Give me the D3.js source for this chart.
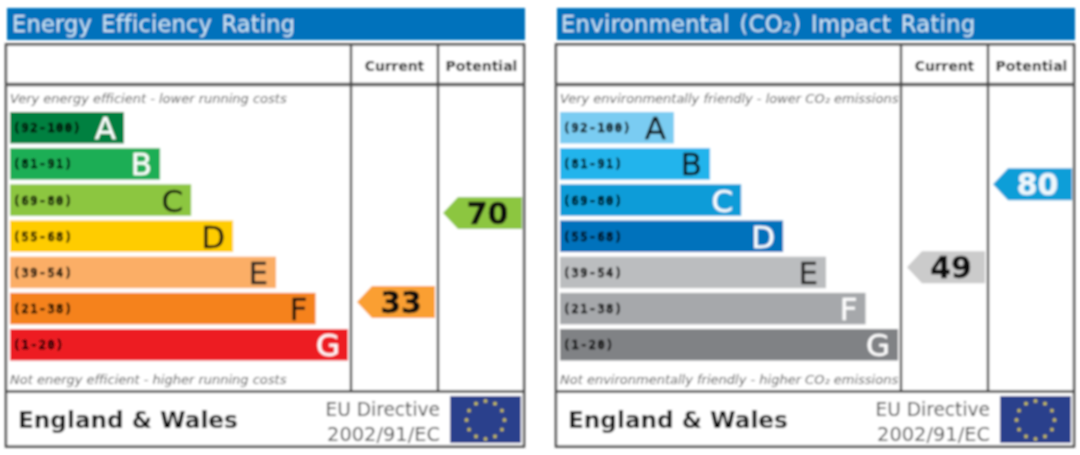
<!DOCTYPE html>
<html><head><meta charset="utf-8">
<script src="https://cdn.jsdelivr.net/npm/d3@7"></script>
<style>html,body{margin:0;padding:0;background:#fff;overflow:hidden}svg{display:block}text{font-family:"DejaVu Sans",sans-serif}</style>
</head><body><svg id="c" width="1080" height="455"></svg>
<script>
const bands = ["A","B","C","D","E","F","G"];
const ranges = ["(92-100)","(81-91)","(69-80)","(55-68)","(39-54)","(21-38)","(1-20)"];
const bandHigh = [100,91,80,68,54,38,20];
const bandLow = [92,81,69,55,39,21,1];
const barLengths = [33.7,44.4,53.6,66,78.7,90.4,100];

const energyColors = ["#00803f","#1fae55","#8cc63f","#ffcc00","#fbae66","#f5821f","#ed1c24"];
const energyLetters = ["#fff","#fff","#111","#111","#222","#111","#fff"];
const energyTop = "Very energy efficient - lower running costs";
const energyBottom = "Not energy efficient - higher running costs";
const energyCurrent = 33, energyPotential = 70;

const envColors = ["#7accf2","#22b4ec","#0b9cd8","#0072bc","#bbbdbf","#a6a8ab","#808285"];
const envLetters = ["#111","#111","#fff","#fff","#222","#fff","#fff"];
const envTop = "Very environmentally friendly - lower CO\u2082 emissions";
const envBottom = "Not environmentally friendly - higher CO\u2082 emissions";
const envCurrent = 49, envPotential = 80;

const columns = ["Current","Potential"];
const region = "England & Wales";
const directive = ["EU Directive","2002/91/EC"];

const svg = d3.select("#c");
svg.append("defs").append("filter").attr("id","soft").attr("x","-2%").attr("y","-2%").attr("width","104%").attr("height","104%")
  .append("feGaussianBlur").attr("stdDeviation",0.85);

const root = svg.append("g").attr("filter","url(#soft)");

function panel(x0, o){
  const g = root.append("g").attr("transform",`translate(${x0},0)`);
  const x = d3.scaleLinear().domain([0,100]).range([10,348]);
  const y = d3.scaleBand().domain(bands).range([112,360.5]).paddingInner(0.13).paddingOuter(0);
  // value → vertical centre of the arrow, positioned within its rating band
  const valueY = v => {
    const i = bandLow.findIndex(l => v >= l);
    const s = d3.scaleLinear().domain([bandHigh[i],bandLow[i]]).range([y(bands[i]),y(bands[i])+y.bandwidth()]);
    return s(v);
  };

  g.append("rect").attr("x",7).attr("y",8).attr("width",518).attr("height",32).attr("fill","#0072bc");
  const t = g.append("text").attr("x",o.titleX).attr("y",32).attr("fill","#cfe6f5")
    .attr("font-size",22.5).attr("letter-spacing",o.titleSpacing).attr("word-spacing",2);
  o.title(t);

  const line = "#444";
  g.append("rect").attr("x",6).attr("y",44.5).attr("width",518).attr("height",402).attr("fill","#fff").attr("stroke",line).attr("stroke-width",2.4);
  g.append("line").attr("x1",6).attr("x2",524).attr("y1",84.5).attr("y2",84.5).attr("stroke","#5a5a5a").attr("stroke-width",3.4);
  g.append("line").attr("x1",6).attr("x2",524).attr("y1",391.5).attr("y2",391.5).attr("stroke",line).attr("stroke-width",2.4);
  [351,438].forEach(cx=>g.append("line").attr("x1",cx).attr("x2",cx).attr("y1",44).attr("y2",391).attr("stroke",line).attr("stroke-width",2.4));

  g.selectAll(".hd").data(columns).join("text").attr("class","hd")
    .attr("x",(d,i)=>[394.5,481.5][i]).attr("y",71).attr("text-anchor","middle")
    .attr("font-size",(d,i)=>[13.8,14][i]).attr("font-weight","bold").attr("fill","#111").text(d=>d);

  g.append("text").attr("x",10).attr("y",103).attr("font-size",o.noteSize).attr("font-style","italic").attr("fill","#555").text(o.top);
  g.append("text").attr("x",10).attr("y",384).attr("font-size",o.noteSize).attr("font-style","italic").attr("fill","#555").text(o.bottom);

  g.selectAll(".bar").data(bands).join("rect").attr("class","bar")
    .attr("x",x(0)).attr("y",d=>y(d)).attr("height",y.bandwidth())
    .attr("width",(d,i)=>x(barLengths[i])-x(0)).attr("fill",(d,i)=>o.colors[i]);
  g.selectAll(".rng").data(ranges).join("text").attr("class","rng")
    .attr("x",13).attr("y",(d,i)=>y(bands[i])+y.bandwidth()/2+4.5)
    .style("font-family","DejaVu Sans Mono").attr("letter-spacing",1.4)
    .attr("font-size",12).attr("font-weight","bold").attr("fill","#000")
    .attr("stroke","#000").attr("stroke-width",0.5).text(d=>d);
  g.selectAll(".let").data(bands).join("text").attr("class","let")
    .attr("x",(d,i)=>x(barLengths[i])-8).attr("y",d=>y(d)+y.bandwidth()/2+11.5)
    .attr("text-anchor","end").attr("font-size",31)
    .attr("fill",(d,i)=>o.letters[i]).attr("stroke",(d,i)=>o.letters[i]).attr("stroke-width",0.3).text(d=>d);

  const arrow = d3.line();
  [[o.current,357,435,o.currentColor,o.currentText],[o.potential,443,522,o.potentialColor,o.potentialText]].forEach(([v,l,r,c,tc])=>{
    const cy = valueY(v), h = 16;
    g.append("path").attr("d",arrow([[l,cy],[l+15,cy-h],[r,cy-h],[r,cy+h],[l+15,cy+h]])+"Z").attr("fill",c);
    g.append("text").attr("x",(l+r)/2+5).attr("y",cy+11).attr("text-anchor","middle")
      .attr("font-size",30).attr("font-weight","bold").attr("fill",tc).attr("stroke",tc).attr("stroke-width",0.4).text(v);
  });

  g.append("text").attr("x",18).attr("y",428).attr("font-size",23.2).attr("font-weight","bold").attr("fill","#111").text(region);
  g.selectAll(".dir").data(directive).join("text").attr("class","dir").attr("x",440).attr("y",(d,i)=>416+i*24.5)
    .attr("text-anchor","end").attr("font-size",(d,i)=>[18.6,19.4][i]).attr("fill","#4a4a4a").text(d=>d);
  g.append("rect").attr("x",450).attr("y",396).attr("width",71).attr("height",47).attr("fill","#2b3f8c");
  const star = d3.symbol().type(d3.symbolStar).size(9);
  g.selectAll(".st").data(d3.range(12)).join("path").attr("class","st").attr("d",star)
    .attr("transform",d=>{const a=d/12*2*Math.PI;return `translate(${485.5+19*Math.sin(a)},${420-19*Math.cos(a)})`})
    .attr("fill","#e8d84a");
}

panel(0,{titleX:12,titleSpacing:0.2,title:t=>t.text("Energy Efficiency Rating"),colors:energyColors,letters:energyLetters,top:energyTop,bottom:energyBottom,noteSize:13,
  current:energyCurrent,potential:energyPotential,currentColor:"#fa9f32",potentialColor:"#8cc63f",currentText:"#111",potentialText:"#111"});
panel(550,{titleX:11,titleSpacing:0.4,title:t=>{t.text("Environmental (CO");t.append("tspan").attr("font-size",14).text("2");t.append("tspan").text(") Impact Rating");},
  colors:envColors,letters:envLetters,top:envTop,bottom:envBottom,noteSize:13,
  current:envCurrent,potential:envPotential,currentColor:"#cbcbcb",potentialColor:"#0f9ed8",currentText:"#111",potentialText:"#eef7fc"});
</script></body></html>
